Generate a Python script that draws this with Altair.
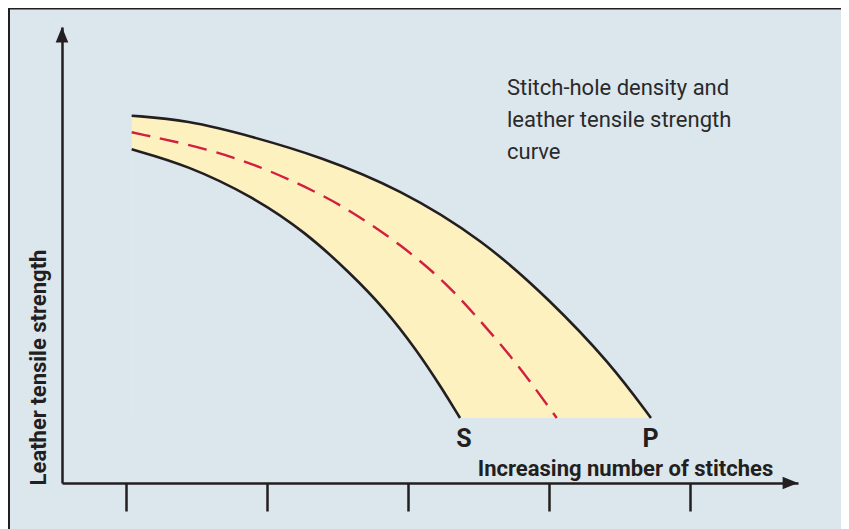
import altair as alt
import pandas as pd

# ---- data (arbitrary schematic units) ----
upper_x = [1.040, 1.430, 1.901, 2.376, 2.943, 3.532, 4.007, 4.433, 4.723]
upper_y = [80.55, 79.60, 75.94, 71.56, 64.47, 53.29, 40.13, 26.32, 14.25]

lower_x = [1.040, 1.430, 1.901, 2.281, 2.589, 2.823, 3.062, 3.248, 3.369]
lower_y = [73.18, 69.74, 62.79, 54.82, 46.05, 38.66, 29.17, 20.39, 14.25]

mid_x = [1.040, 1.596, 1.998, 2.397, 2.645, 2.943, 3.274, 3.532, 3.771, 4.055]
mid_y = [76.91, 73.25, 68.86, 63.16, 58.62, 52.41, 43.86, 34.87, 26.32, 14.25]

base_level = 14.25
tick_values = [1, 2, 3, 4, 5]
x_domain = [0.546, 5.766]
y_domain = [0, 100]

end_labels = ["S", "P"]
end_label_x = [3.397, 4.721]
end_label_y = [7.8, 7.8]

note_lines = ["Stitch-hole density and", "leather tensile strength", "curve"]
note_x = [3.702]
note_y = [85.1]

x_title = "Increasing number of stitches"
y_title = "Leather tensile strength"

# ---- styling ----
FONT = "Roboto"
BG = "#dce6ed"
INK = "#231f20"
FILL = "#fef1c0"
RED = "#d11f3f"
CURVE = "basis"

x_scale = alt.Scale(domain=x_domain, nice=False, zero=False)
y_scale = alt.Scale(domain=y_domain, nice=False, zero=False)

x_axis = alt.Axis(
    values=tick_values, labels=False, ticks=True, tickSize=28, tickWidth=2.5,
    tickColor=INK, domain=True, domainColor=INK, domainWidth=2.5, grid=False,
    title=x_title, titleFont=FONT, titleFontSize=22, titleFontWeight="bold",
    titleColor=INK, titleX=563, titleY=-8, titleAlign="center",
    titleBaseline="alphabetic", titleAngle=0,
)
y_axis = alt.Axis(
    labels=False, ticks=False, domain=True, domainColor=INK, domainWidth=2.5,
    grid=False, title=y_title, titleFont=FONT, titleFontSize=22,
    titleFontWeight="bold", titleColor=INK, titleX=-17, titleY=340,
    titleAlign="center", titleBaseline="alphabetic", titleAngle=270,
)


def X(field="x"):
    return alt.X(f"{field}:Q", scale=x_scale, axis=x_axis)


def Y(field="y"):
    return alt.Y(f"{field}:Q", scale=y_scale, axis=y_axis)


upper = pd.DataFrame({"x": upper_x, "y": upper_y})
lower = pd.DataFrame({"x": lower_x, "y": lower_y})
mid = pd.DataFrame({"x": mid_x, "y": mid_y})

band = alt.Chart(upper).mark_area(color=FILL, interpolate=CURVE).encode(
    x=X(), y=Y(), y2=alt.datum(base_level)
)
under = alt.Chart(lower).mark_area(color=BG, interpolate=CURVE).encode(
    x=X(), y=Y(), y2=alt.datum(base_level)
)
mid_line = alt.Chart(mid).mark_line(
    color=RED, strokeWidth=2.4, strokeDash=[19, 10], interpolate=CURVE
).encode(x=X(), y=Y())
upper_line = alt.Chart(upper).mark_line(
    color=INK, strokeWidth=2.6, interpolate=CURVE
).encode(x=X(), y=Y())
lower_line = alt.Chart(lower).mark_line(
    color=INK, strokeWidth=2.6, interpolate=CURVE
).encode(x=X(), y=Y())

y_arrow = alt.Chart(pd.DataFrame({"x": [x_domain[0]], "y": [y_domain[1]]})).mark_point(
    shape="M0,0L0.82,2L-0.82,2Z", filled=True, size=237, color=INK, opacity=1
).encode(x=X(), y=Y())
x_arrow = alt.Chart(pd.DataFrame({"x": [x_domain[1]], "y": [y_domain[0]]})).mark_point(
    shape="M0,0L-2,0.8L-2,-0.8Z", filled=True, size=237, color=INK, opacity=1
).encode(x=X(), y=Y())

ends = alt.Chart(pd.DataFrame({"x": end_label_x, "y": end_label_y, "t": end_labels})).mark_text(
    font=FONT, fontSize=25, fontWeight="bold", color=INK, align="center",
    baseline="alphabetic"
).encode(x=X(), y=Y(), text="t:N")

note = alt.Chart(pd.DataFrame({"x": note_x, "y": note_y})).mark_text(
    text=note_lines, font=FONT, fontSize=22, color="#2a2a2a", align="left",
    baseline="alphabetic", lineHeight=32
).encode(x=X(), y=Y())

one = pd.DataFrame({"a": [0]})
frame_left = alt.Chart(one).mark_rule(color=INK, strokeWidth=2).encode(
    x=alt.value(-53), y=alt.value(-19), y2=alt.value(502)
)
frame_top = alt.Chart(one).mark_rule(color=INK, strokeWidth=2).encode(
    x=alt.value(-54), x2=alt.value(780), y=alt.value(-18.5)
)

chart = alt.layer(
    band, under, mid_line, upper_line, lower_line, y_arrow, x_arrow, ends, note,
    frame_left, frame_top,
).properties(
    width=736, height=456,
    padding={"left": 54, "top": 19, "right": 43, "bottom": 46},
    autosize=alt.AutoSizeParams(type="none"),
    background=BG,
).configure_view(stroke=None)

chart.save("out.html", embed_options={"renderer": "svg", "actions": False})
